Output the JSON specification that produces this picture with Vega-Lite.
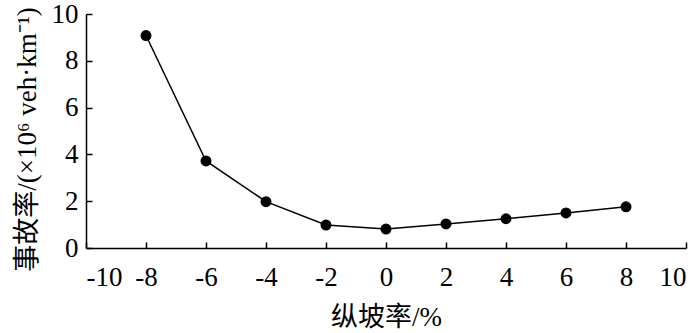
{
  "$schema": "https://vega.github.io/schema/vega-lite/v6.json",
  "autosize": "none",
  "width": 600,
  "height": 234,
  "padding": {"left": 86, "top": 14, "right": 14, "bottom": 85},
  "background": "white",
  "config": {"view": {"stroke": null}},
  "data": {"values": [
    {"grade": -8, "rate": 9.08},
    {"grade": -6, "rate": 3.72},
    {"grade": -4, "rate": 1.98},
    {"grade": -2, "rate": 0.98},
    {"grade": 0, "rate": 0.81},
    {"grade": 2, "rate": 1.03},
    {"grade": 4, "rate": 1.25},
    {"grade": 6, "rate": 1.5},
    {"grade": 8, "rate": 1.76}
  ]},
  "encoding": {
    "x": {"field": "grade", "type": "quantitative",
      "scale": {"domain": [-10, 10], "nice": false},
      "axis": {"title": "纵坡率/%", "values": [-10,-8,-6,-4,-2,0,2,4,6,8,10], "grid": false,
        "labelExpr": "toString(datum.value)",
        "domainColor": "black", "domainWidth": 1.5, "tickColor": "black", "tickWidth": 1.5, "tickSize": -6,
        "labelFont": "Liberation Serif", "labelFontSize": 27, "labelColor": "black", "labelPadding": 22,
        "titleFont": "Liberation Serif, Noto Sans CJK SC", "titleFontSize": 27, "titleFontWeight": "normal", "titleColor": "black", "titlePadding": 14}},
    "y": {"field": "rate", "type": "quantitative",
      "scale": {"domain": [0, 10], "nice": false},
      "axis": {"title": "事故率/(×10⁶ veh·km⁻¹)", "values": [0,2,4,6,8,10], "grid": false,
        "labelExpr": "toString(datum.value)",
        "domainColor": "black", "domainWidth": 1.5, "tickColor": "black", "tickWidth": 1.5, "tickSize": -6,
        "labelFont": "Liberation Serif", "labelFontSize": 27, "labelColor": "black", "labelPadding": 14,
        "titleFont": "Liberation Serif, Noto Sans CJK SC", "titleFontSize": 27, "titleFontWeight": "normal", "titleColor": "black", "titlePadding": 10, "titleY": 125}}
  },
  "layer": [
    {"mark": {"type": "line", "color": "black", "strokeWidth": 1.5}},
    {"mark": {"type": "point", "filled": true, "color": "black", "size": 120, "opacity": 1}}
  ]
}
